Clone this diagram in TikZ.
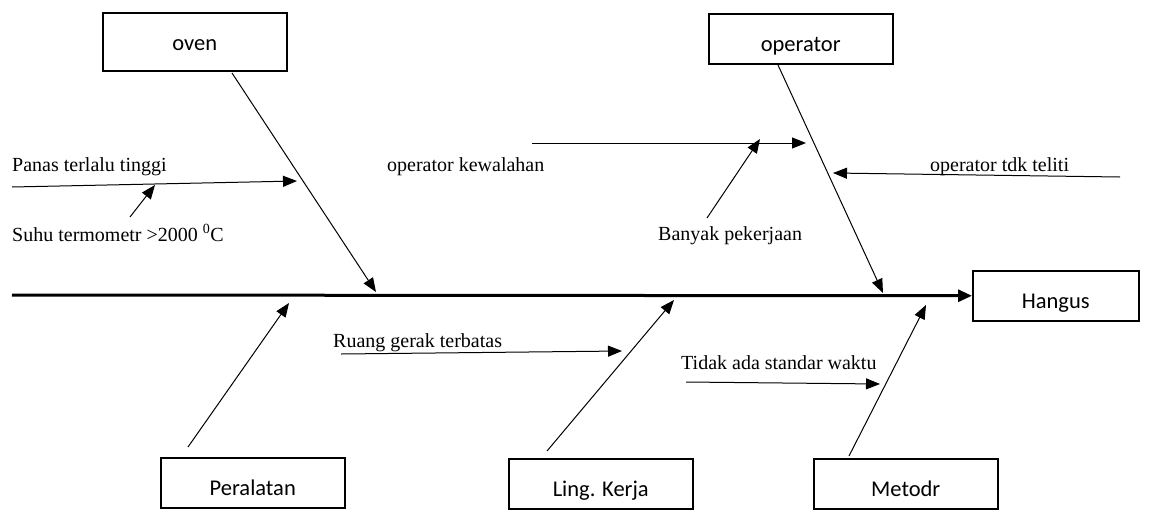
\documentclass[tikz,border=0pt]{standalone}
\usepackage{fontspec}
\setmainfont{Liberation Serif}
\newfontfamily\boxfont{Carlito}
\usetikzlibrary{arrows.meta}

\begin{document}
\begin{tikzpicture}[x=1pt,y=-1pt,
  cause/.style={draw,line width=1.5pt,anchor=north west,minimum width=184pt,inner xsep=0pt,inner ysep=8pt,
    text height=30pt,text depth=4pt,font=\boxfont\fontsize{22.5}{27}\selectfont},
  note/.style={anchor=base west,inner sep=0pt,font=\fontsize{20}{24}\selectfont},
  bone/.style={line width=1pt,-{Triangle[length=14pt,width=11pt]}},
  spine/.style={line width=3pt,-{Triangle[length=14pt,width=12pt]}}]
\useasboundingbox (0,0) rectangle (1152,512);
% boxes
\node[cause,text depth=12pt] (oven) at (102,12) {oven};
\node[cause] (operator) at (708,13) {operator};
\node[cause,minimum width=166pt] (hangus) at (972,270) {Hangus};
\node[cause] (peralatan) at (160,457) {Peralatan};
\node[cause] (ling) at (508,458) {Ling. Kerja};
\node[cause] (metodr) at (813,458) {Metodr};
% spine
\coordinate (tail) at (12,295);
\draw[spine] (tail) -- (hangus.west);
% main bones
\coordinate (ovenA) at (232,73);      \coordinate (ovenB) at (376,292);
\coordinate (operatorA) at (778,65);  \coordinate (operatorB) at (883,293);
\coordinate (peralatanA) at (188,447); \coordinate (peralatanB) at (289,303);
\coordinate (lingA) at (547,451);     \coordinate (lingB) at (674,300);
\coordinate (metodrA) at (849,456);   \coordinate (metodrB) at (926,305);
\draw[bone] (ovenA) -- (ovenB);
\draw[bone] (operatorA) -- (operatorB);
\draw[bone] (peralatanA) -- (peralatanB);
\draw[bone] (lingA) -- (lingB);
\draw[bone] (metodrA) -- (metodrB);
% causes
\node[note] (panas) at (12,171) {Panas terlalu tinggi};
\node[note] (suhu) at (12,241) {Suhu termometr >2000 \textsuperscript{0}C};
\node[note] (kewalahan) at (387,171) {operator kewalahan};
\node[note] (banyak) at (658,240) {Banyak pekerjaan};
\node[note] (teliti) at (930,171) {operator tdk teliti};
\node[note] (ruang) at (333,347) {Ruang gerak terbatas};
\node[note] (tidak) at (681,369) {Tidak ada standar waktu};
\coordinate (panasA) at (12,187);      \coordinate (panasB) at (297,181);
\coordinate (suhuA) at (130,217);      \coordinate (suhuB) at (155,185);
\coordinate (kewalahanA) at (532,143); \coordinate (kewalahanB) at (806,143);
\coordinate (banyakA) at (707,218);    \coordinate (banyakB) at (760,139);
\coordinate (telitiA) at (1120,177);   \coordinate (telitiB) at (833,173);
\coordinate (ruangA) at (341,354);     \coordinate (ruangB) at (622,351);
\coordinate (tidakA) at (686,382);     \coordinate (tidakB) at (880,384);
\draw[bone] (panasA) -- (panasB);
\draw[bone] (suhuA) -- (suhuB);
\draw[bone] (kewalahanA) -- (kewalahanB);
\draw[bone] (banyakA) -- (banyakB);
\draw[bone] (telitiA) -- (telitiB);
\draw[bone] (ruangA) -- (ruangB);
\draw[bone] (tidakA) -- (tidakB);
\end{tikzpicture}
\end{document}
